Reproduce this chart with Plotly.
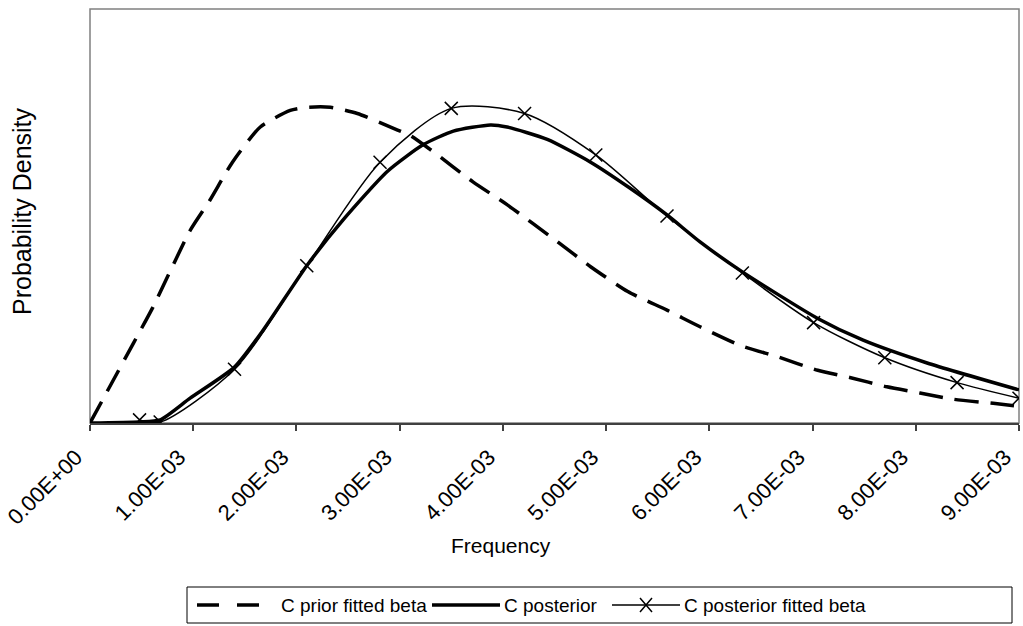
import plotly.graph_objects as go

# ---------------- data ----------------
tick_values = [0.0, 0.001, 0.002, 0.003, 0.004, 0.005, 0.006, 0.007, 0.008, 0.009]
tick_labels = ["0.00E+00", "1.00E-03", "2.00E-03", "3.00E-03", "4.00E-03",
               "5.00E-03", "6.00E-03", "7.00E-03", "8.00E-03", "9.00E-03"]

prior_x = [0, 0.42e-3, 0.61e-3, 0.97e-3, 1.16e-3, 1.38e-3, 1.65e-3, 1.94e-3, 2.10e-3,
           2.33e-3, 2.59e-3, 2.98e-3, 3.10e-3, 3.30e-3, 3.71e-3, 4.04e-3, 4.53e-3,
           4.85e-3, 5.21e-3, 5.59e-3, 5.91e-3, 6.30e-3, 6.66e-3, 7.05e-3, 7.36e-3,
           7.72e-3, 8.04e-3, 8.36e-3, 8.75e-3, 9.0e-3]
prior_y = [0, 77, 112, 186, 215, 252, 286, 302, 305, 305, 299, 283, 278, 264, 233, 211,
           175, 151, 127, 109, 93, 75, 64, 51, 44, 35, 29, 23, 19, 16]

post_x = [0, 0.48e-3, 0.68e-3, 0.97e-3, 1.40e-3, 1.68e-3, 2.10e-3, 2.45e-3, 2.88e-3,
          3.23e-3, 3.52e-3, 3.88e-3, 4.04e-3, 4.43e-3, 4.85e-3, 5.23e-3, 5.59e-3,
          5.91e-3, 6.32e-3, 7.05e-3, 7.49e-3, 8.11e-3, 9.0e-3]
post_y = [0, 1, 3, 24, 54, 90, 152, 196, 243, 269, 282, 288, 286, 274, 252, 227, 201,
          175, 146, 101, 80, 58, 32]

fit_x = [0.48e-3, 0.68e-3, 1.40e-3, 2.10e-3, 2.81e-3, 3.50e-3, 4.21e-3, 4.90e-3,
         5.59e-3, 6.32e-3, 7.01e-3, 7.70e-3, 8.40e-3, 9.0e-3]
fit_y = [3, 1, 52, 152, 252, 304, 299, 259, 200, 145, 97, 63, 39, 24]

series_names = ["C prior fitted beta", "C posterior", "C posterior fitted beta"]

# ---------------- layout constants ----------------
W, H = 1023, 626
L, R, T, B = 90, 4, 9, 203
PW, PH = W - L - R, H - T - B
FONT = "Liberation Sans, Arial, sans-serif"


def px(x):
    return (x - L) / PW


def py(y):
    return (H - B - y) / PH


fig = go.Figure()

fig.add_trace(go.Scatter(x=prior_x, y=prior_y, mode="lines", name=series_names[0],
                         line=dict(color="black", width=3.5, dash="24px,12px",
                                   shape="spline", smoothing=0.6),
                         showlegend=False))
fig.add_trace(go.Scatter(x=post_x, y=post_y, mode="lines", name=series_names[1],
                         line=dict(color="black", width=3.5, shape="spline", smoothing=0.6),
                         showlegend=False))
fig.add_trace(go.Scatter(x=fit_x, y=fit_y, mode="lines+markers", name=series_names[2],
                         line=dict(color="black", width=1.5, shape="spline", smoothing=0.8),
                         marker=dict(symbol="x-thin", size=13, color="black",
                                     line=dict(color="black", width=1.5)),
                         showlegend=False, cliponaxis=True))

shapes = [
    # plot frame
    dict(type="rect", xref="paper", yref="paper", x0=0, x1=1, y0=0, y1=1,
         line=dict(color="#808080", width=1.5), layer="below"),
    # legend box
    dict(type="rect", xref="paper", yref="paper", x0=px(187), x1=px(1012),
         y0=py(623), y1=py(587), line=dict(color="black", width=1)),
    # legend samples
    dict(type="line", xref="paper", yref="paper", x0=px(197), x1=px(265),
         y0=py(605), y1=py(605), line=dict(color="black", width=3.5, dash="22px,18px")),
    dict(type="line", xref="paper", yref="paper", x0=px(432), x1=px(500),
         y0=py(605), y1=py(605), line=dict(color="black", width=3.5)),
    dict(type="line", xref="paper", yref="paper", x0=px(612), x1=px(680),
         y0=py(605), y1=py(605), line=dict(color="black", width=1.5)),
    dict(type="path", xref="paper", yref="paper",
         path=f"M {px(640)},{py(598)} L {px(652)},{py(612)} M {px(640)},{py(612)} L {px(652)},{py(598)}",
         line=dict(color="black", width=1.5)),
]

annotations = [
    dict(text="Frequency", xref="paper", yref="paper", x=px(501), y=py(545),
         xanchor="center", yanchor="middle", showarrow=False,
         font=dict(family=FONT, size=21, color="black")),
    dict(text="Probability Density", xref="paper", yref="paper", x=px(22), y=py(211),
         xanchor="center", yanchor="middle", showarrow=False, textangle=-90,
         font=dict(family=FONT, size=25, color="black")),
    dict(text=series_names[0], xref="paper", yref="paper", x=px(279), y=py(605),
         xanchor="left", yanchor="middle", showarrow=False,
         font=dict(family=FONT, size=19, color="black")),
    dict(text=series_names[1], xref="paper", yref="paper", x=px(502), y=py(605),
         xanchor="left", yanchor="middle", showarrow=False,
         font=dict(family=FONT, size=19, color="black")),
    dict(text=series_names[2], xref="paper", yref="paper", x=px(682), y=py(605),
         xanchor="left", yanchor="middle", showarrow=False,
         font=dict(family=FONT, size=19, color="black")),
]

fig.update_layout(
    width=W, height=H,
    margin=dict(l=L, r=R, t=T, b=B, pad=0, autoexpand=False),
    paper_bgcolor="white", plot_bgcolor="white",
    font=dict(family=FONT, color="black"),
    showlegend=False,
    shapes=shapes,
    annotations=annotations,
    xaxis=dict(range=[-1e-9, 0.009 + 1e-9], tickvals=tick_values, ticktext=tick_labels,
               tickangle=-45, tickfont=dict(family=FONT, size=22, color="black"),
               ticklabeloverflow="allow", ticklabelstandoff=5, ticklabelshift=-14,
               automargin=False,
               ticks="outside", ticklen=6, tickcolor="#404040", tickwidth=1.5,
               showline=True, linecolor="#404040", linewidth=1.5,
               showgrid=False, zeroline=False, fixedrange=True),
    yaxis=dict(range=[0, 400], showticklabels=False, ticks="", automargin=False,
               showline=False, showgrid=False, zeroline=False, fixedrange=True),
)

fig.write_html("out.html")
